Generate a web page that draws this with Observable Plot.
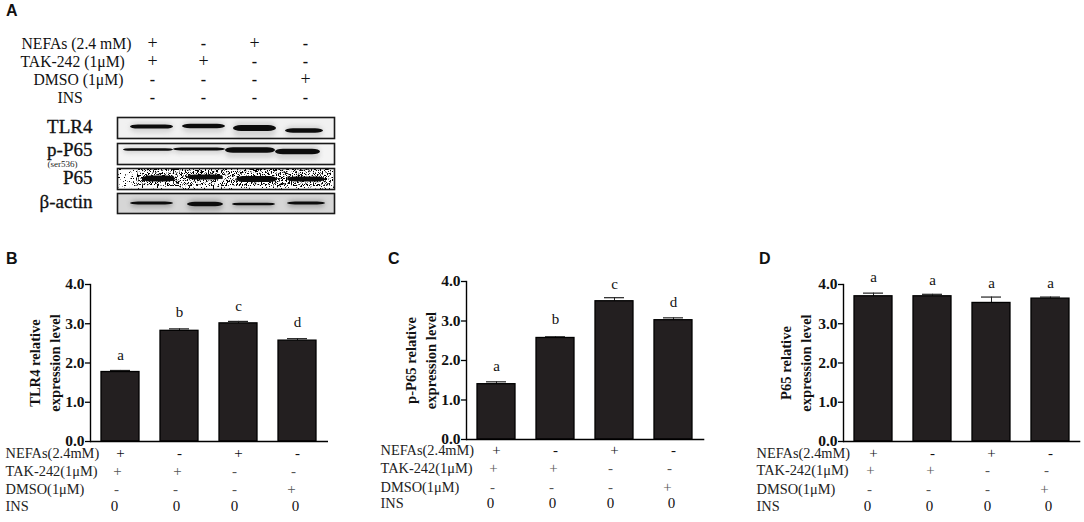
<!DOCTYPE html>
<html>
<head>
<meta charset="utf-8">
<script src="https://cdn.jsdelivr.net/npm/d3@7"></script>
<script src="https://cdn.jsdelivr.net/npm/@observablehq/plot@0.6"></script>
<style>
  body { margin:0; background:#fff; width:1084px; height:522px; position:relative; overflow:hidden; }
  .p { position:absolute; }
  .p svg { overflow:visible; display:block; max-width:none; }
  .tag { position:absolute; font:bold 16px "Liberation Sans"; color:#111; }
</style>
</head>
<body>
<svg width="0" height="0" style="position:absolute">
  <filter id="speckle" x="0" y="0" width="100%" height="100%">
    <feTurbulence type="fractalNoise" baseFrequency="0.75" numOctaves="2" seed="4"/>
    <feColorMatrix values="0 0 0 0 0  0 0 0 0 0  0 0 0 0 0  0 0 0 -14 5.3"/>
    <feComposite in2="SourceAlpha" operator="in"/>
  </filter>
  <filter id="speckleDense" x="0" y="0" width="100%" height="100%">
    <feTurbulence type="fractalNoise" baseFrequency="0.8" numOctaves="2" seed="9"/>
    <feColorMatrix values="0 0 0 0 0  0 0 0 0 0  0 0 0 0 0  0 0 0 -14 6.3"/>
    <feComposite in2="SourceAlpha" operator="in"/>
  </filter>
</svg>
<div class="tag" style="left:6px;top:2px">A</div>
<div class="tag" style="left:6px;top:250px">B</div>
<div class="tag" style="left:388px;top:250px">C</div>
<div class="tag" style="left:759px;top:250px">D</div>
<div class="p" id="head" style="left:0;top:0"></div>
<div class="p" id="blot0" style="left:0;top:117px"></div>
<div class="p" id="blot1" style="left:0;top:143px"></div>
<div class="p" id="blot2" style="left:0;top:168px"></div>
<div class="p" id="blot3" style="left:0;top:193px"></div>
<div class="p" id="chartB" style="left:-5px;top:243.7px"></div>
<div class="p" id="chartC" style="left:370.7px;top:241px"></div>
<div class="p" id="chartD" style="left:747.7px;top:243.7px"></div>
<script>
const groups = ['G1', 'G2', 'G3', 'G4']
const nefas = ['+', '-', '+', '-']
const tak = ['+', '+', '-', '-']
const dmso = ['-', '-', '-', '+']
const insMarks = ['-', '-', '-', '-']
const insZero = ['0', '0', '0', '0']

const headLabels = ['NEFAs (2.4 mM)', 'TAK-242 (1μM)', 'DMSO (1μM)', 'INS']
const rowLabels = ['NEFAs(2.4mM)', 'TAK-242(1μM)', 'DMSO(1μM)', 'INS']

const tlr4 = [1.77, 2.82, 3.01, 2.57]
const tlr4Err = [1.81, 2.87, 3.06, 2.62]
const tlr4Letter = ['a', 'b', 'c', 'd']
const tlr4LetterY = [2.2, 3.29, 3.44, 3.03]

const pp65 = [1.40, 2.57, 3.50, 3.02]
const pp65Err = [1.46, 2.60, 3.59, 3.08]
const pp65Letter = ['a', 'b', 'c', 'd']
const pp65LetterY = [1.85, 3.04, 3.92, 3.47]

const p65 = [3.70, 3.70, 3.53, 3.64]
const p65Err = [3.78, 3.75, 3.68, 3.68]
const p65Letter = ['a', 'a', 'a', 'a']
const p65LetterY = [4.18, 4.12, 4.04, 4.04]

// blot bands, in pixels inside each box
const blotNames = ['TLR4', 'p-P65', 'P65', 'β-actin']
const blotHeights = [21, 21, 21, 20]
const blotBack = ['#f1f1f1', '#f4f4f4', '#ffffff', '#d6d6d6']
const blotLabelDy = [-1, -4, -1, -1.5]
const bandLeft = [[13, 65, 116, 168], [6, 56, 108, 158], [25, 70, 119, 170], [13, 70, 115, 170]]
const bandRight = [[56, 108, 159, 206], [56, 108, 158, 203], [58, 106, 160, 208], [56, 106, 158, 208]]
const bandY = [[9.5, 9, 11, 13.5], [6.5, 6, 7, 8.5], [10.5, 9, 11, 11], [10, 11, 11, 10]]
const bandThick = [[4, 4.5, 6, 4.5], [2.5, 3, 5.5, 5.5], [6, 5, 6, 5], [3, 4.5, 2.5, 3]]

const serif = '"Liberation Serif"'
const cellDx = [[0, 0, 0, 0], [-3, -2, -4, -4], [-4, -4, -4, -6], [-6, -3, -4, -2]]

function headPlot() {
  const labelDx = [21, 20, 33, 57]
  const cols = [nefas, tak, dmso, insMarks]
  const marks = headLabels.map((r, i) => Plot.text([r], {
    y: () => r, frameAnchor: 'left', dx: labelDx[i], textAnchor: 'start', fontSize: 15.7, fill: '#111'
  }))
  cols.forEach((col, i) => {
    col.forEach((s, j) => {
      marks.push(Plot.text([s], {x: () => groups[j], y: () => headLabels[i], text: d => d, fontSize: s == '+' ? 18 : 16, fontWeight: s == '-' ? 'bold' : 'normal', fill: '#111'}))
    })
  })
  return Plot.plot({
    width: 340, height: 110, margin: 0,
    style: {background: 'transparent', fontFamily: serif},
    x: {type: 'point', domain: groups, range: [151, 306], padding: 0, axis: null},
    y: {type: 'point', domain: headLabels, range: [42, 97], padding: 0, axis: null},
    marks
  })
}

function blotPlot(i) {
  const bands = groups.map((g, j) => ({
    x1: bandLeft[i][j], x2: bandRight[i][j],
    y1: bandY[i][j] - bandThick[i][j] / 2, y2: bandY[i][j] + bandThick[i][j] / 2,
    halo1: bandY[i][j] - bandThick[i][j], halo2: bandY[i][j] + bandThick[i][j] * 1.5
  }))
  const h = blotHeights[i]
  const labelOpts = {frameAnchor: 'left', dx: -25, dy: blotLabelDy[i], textAnchor: 'end', fontSize: 19, fill: '#111', stroke: '#111', strokeWidth: 0.3}
  const marks = [Plot.rect([0], {x1: [0], x2: [217], y1: [0], y2: [h], fill: blotBack[i]})]
  if (i == 2) {
    marks.push(Plot.rect([0], {x1: [0], x2: [217], y1: [0], y2: [h], fill: '#000', imageFilter: 'url(#speckle)'}))
    marks.push(Plot.rect(bands, {x1: d => d.x1 - 6, x2: d => d.x2 + 6, y1: () => 1, y2: () => h - 3, fill: '#000', imageFilter: 'url(#speckleDense)'}))
  } else {
    marks.push(Plot.rect(bands, {x1: 'x1', x2: 'x2', y1: 'halo1', y2: 'halo2', fill: i == 3 ? '#aaa' : '#d4d4d4', rx: 6, imageFilter: 'blur(2px)'}))
  }
  marks.push(Plot.rect(bands, {x1: 'x1', x2: 'x2', y1: 'y1', y2: 'y2', fill: '#0c0c0c', rx: 8, imageFilter: i == 2 ? 'blur(0.5px)' : 'blur(0.7px)'}))
  marks.push(Plot.frame({stroke: '#1a1a1a', strokeWidth: 1.6}))
  marks.push(Plot.text([blotNames[i]], labelOpts))
  if (i == 1) marks.push(Plot.text(['(ser536)'], {frameAnchor: 'left', dx: -55, dy: 10, textAnchor: 'middle', fontSize: 9, fill: '#222'}))
  return Plot.plot({
    width: 340, height: h, marginLeft: 117, marginRight: 6, marginTop: 0, marginBottom: 0,
    style: {background: 'transparent', fontFamily: serif},
    x: {domain: [0, 217], axis: null},
    y: {domain: [h, 0], axis: null},
    marks
  })
}

function barPanel(o) {
  const table = groups.map((g, i) => ({g, v: o.values[i], e: o.err[i], l: o.letters[i], ly: o.letterY[i]}))
  const marks = [
    Plot.ruleX(table, {x: 'g', y1: 'v', y2: 'e', stroke: '#222', strokeWidth: 1}),
    Plot.tickY(table, {x: 'g', y: 'e', stroke: '#222', strokeWidth: 1.2, insetLeft: 9, insetRight: 9}),
    Plot.barY(table, {x: 'g', y: 'v', fill: '#231f20', stroke: '#000', strokeWidth: 1.3}),
    Plot.axisY({ticks: [0, 1, 2, 3, 4], tickFormat: '.1f', tickSize: 5, tickPadding: 1, fontSize: 15.5, fontWeight: 'bold', strokeWidth: 1.3, label: null, fill: '#111', stroke: '#000'}),
    Plot.ruleY([0], {stroke: '#000', strokeWidth: 1.4}),
    Plot.frame({anchor: 'left', stroke: '#000', strokeWidth: 1.4}),
    Plot.text(table, {x: 'g', y: 'ly', text: 'l', fontSize: 15, fill: '#111'}),
    Plot.text([o.title], {frameAnchor: 'left', dx: o.titleDx, textAnchor: 'middle', rotate: -90, fontSize: 14.6, fontWeight: 'bold', lineHeight: 1.38, fill: '#111'})
  ]
  rowLabels.forEach((r, i) => {
    marks.push(Plot.text([r], {frameAnchor: 'bottom-left', dx: o.labelDx, dy: o.rowOff[i], textAnchor: 'start', fontSize: 14.4, fill: '#222'}))
  })
  ;[nefas, tak, dmso, insZero].forEach((col, i) => {
    col.forEach((s, j) => {
      marks.push(Plot.text([s], {x: () => groups[j], frameAnchor: 'bottom', dx: cellDx[i][j], dy: o.rowOff[i], text: d => d, fontSize: 15, fill: i == 1 || i == 2 ? '#555' : '#111'}))
    })
  })
  return Plot.plot({
    width: o.w + 100, height: o.h + 120,
    marginLeft: 95, marginRight: 5, marginTop: 40, marginBottom: 80,
    style: {background: 'transparent', fontFamily: serif, color: '#111'},
    x: {domain: groups, paddingInner: 0.35, paddingOuter: 0.185, axis: null},
    y: {domain: [0, 4], axis: null},
    marks
  })
}

document.getElementById('head').append(headPlot())
blotNames.forEach((n, i) => document.getElementById('blot' + i).append(blotPlot(i)))

document.getElementById('chartB').append(barPanel({
  w: 238, h: 157, values: tlr4, err: tlr4Err, letters: tlr4Letter, letterY: tlr4LetterY, labelDx: -85,
  title: 'TLR4 relative\nexpression level', titleDx: -47, rowOff: [16.2, 34, 52.3, 69.3]
}))
document.getElementById('chartC').append(barPanel({
  w: 238.3, h: 158, values: pp65, err: pp65Err, letters: pp65Letter, letterY: pp65LetterY, labelDx: -86,
  title: 'p-P65 relative\nexpression level', titleDx: -47, rowOff: [16, 33.3, 52.7, 68.7]
}))
document.getElementById('chartD').append(barPanel({
  w: 237.3, h: 157, values: p65, err: p65Err, letters: p65Letter, letterY: p65LetterY, labelDx: -87,
  title: 'P65 relative\nexpression level', titleDx: -48.7, rowOff: [16.2, 34, 52.3, 69.3]
}))
</script>
</body>
</html>
